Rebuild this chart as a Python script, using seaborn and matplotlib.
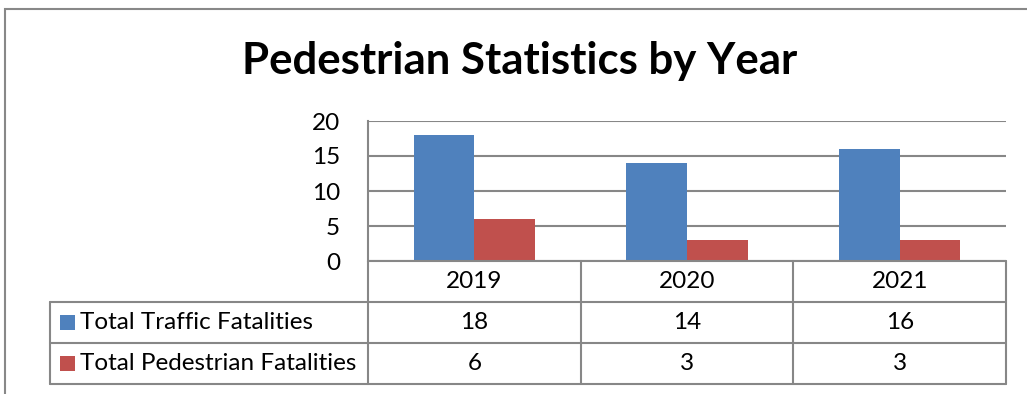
import matplotlib
matplotlib.use("Agg")
import matplotlib.pyplot as plt
import seaborn as sns
import pandas as pd
from matplotlib.patches import Rectangle

years = ["2019", "2020", "2021"]
series_names = ["Total Traffic Fatalities", "Total Pedestrian Fatalities"]
traffic = [18, 14, 16]
pedestrian = [6, 3, 3]
y_ticks = [0, 5, 10, 15, 20]
title = "Pedestrian Statistics by Year"

colors = ["#4F81BD", "#C0504D"]
grid_c = "#878787"

sns.set_theme(style="white")
plt.rcParams["font.family"] = ["Lato", "DejaVu Sans"]
plt.rcParams["text.color"] = "black"
plt.rcParams["ytick.color"] = "black"

df = pd.DataFrame({
    "Year": years * 2,
    "Series": [series_names[0]] * 3 + [series_names[1]] * 3,
    "Value": traffic + pedestrian,
})

W, H = 1027, 394
fig = plt.figure(figsize=(W / 100, H / 100), dpi=100)
FS = 17.5

def fx(px):
    return px / W

def fy(py):
    return 1 - py / H

# outer chart border
fig.patches.append(Rectangle((fx(5), -0.1), 1.2, fy(9) + 0.1, transform=fig.transFigure,
                             fill=False, edgecolor="#888888", lw=1.5, clip_on=False))

left, right = 368, 1006
ax = fig.add_axes([fx(left), fy(261), fx(right - left), fy(121) - fy(261)])
sns.barplot(data=df, x="Year", y="Value", hue="Series", palette=colors,
            width=0.57, gap=0, saturation=1, ax=ax, legend=False, edgecolor="none")
ax.set_xlim(-0.5, 2.5)
ax.set_ylim(0, 20)
ax.set_yticks(y_ticks)
ax.set_yticklabels([str(v) for v in y_ticks], fontsize=FS, color="black")
ax.tick_params(axis="y", length=0, pad=20)
ax.set_xticks([])
ax.set_xlabel("")
ax.set_ylabel("")
for v in y_ticks:
    ax.axhline(v, color=grid_c, lw=1.5, zorder=0)
for s in ["top", "right", "bottom"]:
    ax.spines[s].set_visible(False)
ax.spines["left"].set_color(grid_c)
ax.spines["left"].set_linewidth(1.5)
ax.set_facecolor("none")

fig.suptitle(title, x=fx(520), y=fy(61), va="center", fontsize=31.5,
             fontweight="bold", color="black")

# data table
tab_left = 50
cat_w = (right - left) / 3.0
x_min = -0.5 - (left - tab_left) / cat_w
tax = fig.add_axes([fx(tab_left), fy(384), fx(right - tab_left), fy(261) - fy(384)])
tax.set_xlim(x_min, 2.5)
tax.set_ylim(0, 3)
tax.axis("off")
lk = dict(color=grid_c, lw=1.5, clip_on=False)
tax.plot([-0.5, 2.5], [3, 3], **lk)
for yv in [2, 1, 0]:
    tax.plot([x_min, 2.5], [yv, yv], **lk)
for xv in [-0.5, 0.5, 1.5, 2.5]:
    tax.plot([xv, xv], [0, 3], **lk)
tax.plot([x_min, x_min], [0, 2], **lk)

for i, yr in enumerate(years):
    tax.text(i, 2.5, yr, ha="center", va="center", fontsize=FS, color="black")
rows = [traffic, pedestrian]
for r, (name, vals) in enumerate(zip(series_names, rows)):
    yc = 1.5 - r
    for i, v in enumerate(vals):
        tax.text(i, yc, str(v), ha="center", va="center", fontsize=FS, color="black")
    sq = 15 / cat_w
    tax.add_patch(Rectangle((x_min + 10 / cat_w, yc - 0.18), sq, 0.36,
                            facecolor=colors[r], edgecolor="none"))
    tax.text(x_min + 30 / cat_w, yc, name, ha="left", va="center", fontsize=FS,
             color="black")

fig.savefig("out.png", dpi=100, facecolor="white")
